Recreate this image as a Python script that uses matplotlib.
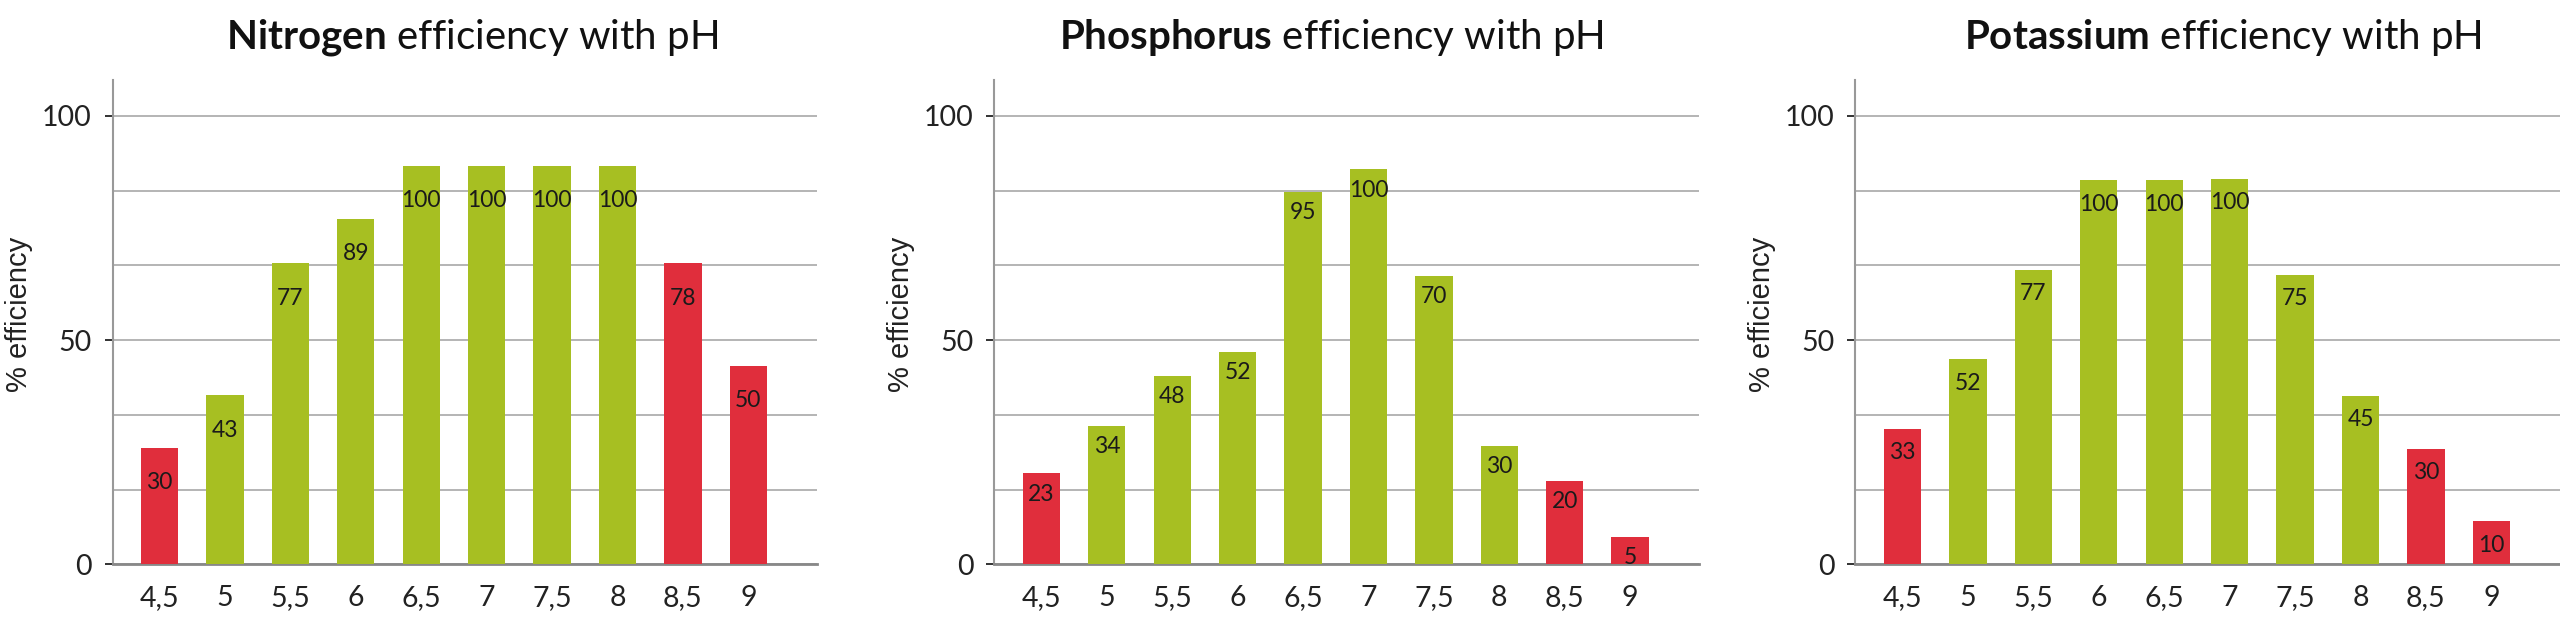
import numpy as np
import matplotlib
matplotlib.use("Agg")
import matplotlib.pyplot as plt
from matplotlib.ticker import FixedLocator

# pH categories shared by the three panels
ph_labels = ["4,5", "5", "5,5", "6", "6,5", "7", "7,5", "8", "8,5", "9"]
red_ph = ["4,5", "8,5", "9"]

nutrients = ["Nitrogen", "Phosphorus", "Potassium"]

# value written on each bar
nitrogen_labels = [30, 43, 77, 89, 100, 100, 100, 100, 78, 50]
phosphorus_labels = [23, 34, 48, 52, 95, 100, 70, 30, 20, 5]
potassium_labels = [33, 52, 77, 100, 100, 100, 75, 45, 30, 10]

# bar heights
nitrogen_heights = [26.0, 37.7, 67.1, 77.1, 88.8, 88.8, 88.8, 88.8, 67.1, 44.3]
phosphorus_heights = [20.3, 30.9, 42.1, 47.4, 83.1, 88.1, 64.3, 26.4, 18.6, 6.2]
potassium_heights = [30.2, 45.7, 65.7, 85.6, 85.6, 86.0, 64.5, 37.5, 25.7, 9.6]

GREEN = "#a7bf22"
RED = "#e02e3c"
GRID = "#a8a8a8"

plt.rcParams["font.family"] = ["Lato", "DejaVu Sans"]
plt.rcParams["mathtext.fontset"] = "custom"
plt.rcParams["mathtext.rm"] = "Lato"
plt.rcParams["mathtext.bf"] = "Lato:bold"

fig = plt.figure(figsize=(25.6, 6.31), dpi=100)

lefts = [0.04395, 0.3884, 0.7248]
title_x = [0.511, 0.479, 0.522]
label_off = [-25, -15, -17]

panels = [
    (nitrogen_heights, nitrogen_labels),
    (phosphorus_heights, phosphorus_labels),
    (potassium_heights, potassium_labels),
]

for k, (heights, labels) in enumerate(panels):
    ax = fig.add_axes([lefts[k], 0.1054, 0.2752, 0.768])
    x = np.arange(len(ph_labels))
    colors = [RED if p in red_ph else GREEN for p in ph_labels]
    ax.bar(x, heights, width=0.57, color=colors, zorder=3)

    for xi, h, lab in zip(x, heights, labels):
        ax.annotate(str(lab), (xi, h), xytext=(0, label_off[k]),
                    textcoords="offset points", ha="center", va="center",
                    fontsize=16.5, color="#1a1a1a", zorder=4)

    ax.set_xlim(-0.72, 10.05)
    ax.set_ylim(0, 108)
    ax.set_xticks(x)
    ax.set_xticklabels(ph_labels)
    ax.yaxis.set_major_locator(FixedLocator([0, 50, 100]))
    ax.yaxis.set_minor_locator(FixedLocator([100 / 6 * i for i in range(1, 7)]))
    ax.grid(axis="y", which="both", color=GRID, linewidth=1.2, zorder=0)
    ax.set_axisbelow(True)

    ax.tick_params(axis="x", length=0, pad=15, labelsize=20.5, colors="#222222")
    ax.tick_params(axis="y", which="major", length=6, width=1.3, pad=9,
                   labelsize=20.5, colors="#222222")
    ax.tick_params(axis="y", which="minor", length=0)

    for s in ["top", "right"]:
        ax.spines[s].set_visible(False)
    ax.spines["left"].set_color("#999999")
    ax.spines["left"].set_linewidth(1.5)
    ax.spines["bottom"].set_color("#888888")
    ax.spines["bottom"].set_linewidth(2)

    ax.text(-0.133, 0.516, "% efficiency", transform=ax.transAxes, rotation=90,
            ha="center", va="center", fontsize=21, color="#222222",
            family=["Liberation Sans", "DejaVu Sans"])

    ax.text(title_x[k], 1.064, r"$\mathbf{" + nutrients[k] + r"}$ efficiency with pH",
            transform=ax.transAxes, ha="center", va="baseline", fontsize=29,
            color="#111111")

fig.savefig("out.png", dpi=100)
